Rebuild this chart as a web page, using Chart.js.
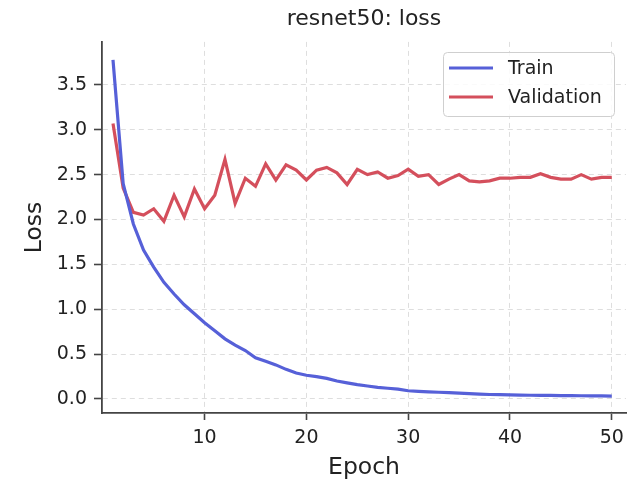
<!DOCTYPE html>
<html>
<head>
<meta charset="utf-8">
<title>resnet50: loss</title>
<script src="https://cdn.jsdelivr.net/npm/chart.js@4.4.1/dist/chart.umd.min.js"></script>
<style>
  html, body { margin: 0; padding: 0; background: #fff; }
  #wrap { width: 631px; height: 482px; }
</style>
</head>
<body>
<div id="wrap"><canvas id="lossChart" width="631" height="482"></canvas></div>
<script>
// per-epoch loss values
const trainLoss = [3.78, 2.40, 1.95, 1.66, 1.47, 1.30, 1.17, 1.05, 0.95, 0.85,
                   0.76, 0.67, 0.60, 0.54, 0.46, 0.42, 0.38, 0.33, 0.29, 0.265,
                   0.25, 0.23, 0.20, 0.18, 0.16, 0.145, 0.13, 0.12, 0.11, 0.092,
                   0.085, 0.08, 0.075, 0.07, 0.065, 0.06, 0.055, 0.05, 0.048, 0.045,
                   0.043, 0.042, 0.04, 0.04, 0.038, 0.037, 0.036, 0.035, 0.034, 0.033];
const valLoss = [3.07, 2.35, 2.08, 2.05, 2.12, 1.98, 2.27, 2.03, 2.34, 2.12,
                 2.27, 2.67, 2.18, 2.46, 2.37, 2.62, 2.44, 2.61, 2.55, 2.44,
                 2.55, 2.58, 2.52, 2.39, 2.56, 2.50, 2.53, 2.46, 2.49, 2.56,
                 2.48, 2.50, 2.39, 2.45, 2.50, 2.43, 2.42, 2.43, 2.46, 2.46,
                 2.47, 2.47, 2.51, 2.47, 2.45, 2.45, 2.50, 2.45, 2.47, 2.47];
const epochs = trainLoss.map((_, i) => i + 1);
const xTicks = [10, 20, 30, 40, 50];
const yTicks = [0, 0.5, 1.0, 1.5, 2.0, 2.5, 3.0, 3.5];

const FONT = "'DejaVu Sans', sans-serif";
const AXIS = '#444';
const GRID = '#dedede';
const TEXT = '#222';

const toPoints = arr => arr.map((v, i) => ({ x: epochs[i], y: v }));

// matplotlib-style legend box in the upper right of the plot
const boxLegend = {
  id: 'boxLegend',
  afterDraw(chart) {
    const ctx = chart.ctx;
    const x = 443.5, y = 52.5, w = 171, h = 64;
    ctx.save();
    ctx.beginPath();
    ctx.roundRect(x, y, w, h, 4);
    ctx.fillStyle = 'rgba(255,255,255,0.85)';
    ctx.fill();
    ctx.strokeStyle = '#cfcfcf';
    ctx.lineWidth = 1;
    ctx.stroke();
    ctx.font = '19px ' + FONT;
    ctx.textBaseline = 'middle';
    chart.data.datasets.forEach((ds, i) => {
      const ly = 68 + i * 29;
      ctx.beginPath();
      ctx.moveTo(449, ly);
      ctx.lineTo(493, ly);
      ctx.strokeStyle = ds.borderColor;
      ctx.lineWidth = 3.2;
      ctx.stroke();
      ctx.fillStyle = TEXT;
      ctx.fillText(ds.label, 508, ly + 1);
    });
    ctx.restore();
  }
};

new Chart(document.getElementById('lossChart'), {
  type: 'line',
  data: {
    datasets: [
      { label: 'Train', data: toPoints(trainLoss), borderColor: '#5660d8', borderWidth: 3.2, pointRadius: 0, tension: 0 },
      { label: 'Validation', data: toPoints(valLoss), borderColor: '#d44f5c', borderWidth: 3.2, pointRadius: 0, tension: 0 }
    ]
  },
  options: {
    responsive: false,
    animation: false,
    layout: { padding: { left: 0, right: 4, top: 0, bottom: 0 } },
    plugins: {
      legend: { display: false },
      tooltip: { enabled: false },
      title: {
        display: true,
        text: 'resnet50: loss',
        fullSize: false,
        color: TEXT,
        font: { family: FONT, size: 22, weight: 'normal' },
        padding: { top: 6, bottom: 9.5 }
      }
    },
    scales: {
      x: {
        type: 'linear',
        min: -0.08,
        max: 51.4,
        afterBuildTicks: s => { s.ticks = xTicks.map(v => ({ value: v })); },
        afterFit: s => { s.height = 69; },
        ticks: { color: TEXT, font: { family: FONT, size: 19 }, padding: 7, maxRotation: 0 },
        grid: { color: GRID, lineWidth: 1, tickColor: AXIS, tickWidth: 1.6, tickLength: 7 },
        border: { display: true, color: AXIS, width: 1.8, dash: [5, 4] },
        title: { display: true, text: 'Epoch', color: TEXT, font: { family: FONT, size: 23.5 }, padding: { top: 0, bottom: 0 } }
      },
      y: {
        type: 'linear',
        min: -0.156,
        max: 3.979,
        afterBuildTicks: s => { s.ticks = yTicks.map(v => ({ value: v })); },
        afterFit: s => { s.width = 102; },
        ticks: { color: TEXT, font: { family: FONT, size: 19 }, padding: 7, callback: v => v.toFixed(1) },
        grid: { color: GRID, lineWidth: 1, tickColor: AXIS, tickWidth: 1.6, tickLength: 8 },
        border: { display: true, color: AXIS, width: 1.8, dash: [5, 4] },
        title: { display: true, text: 'Loss', color: TEXT, font: { family: FONT, size: 23.5 }, padding: { top: 21, bottom: 0 } }
      }
    }
  },
  plugins: [boxLegend]
});
</script>
</body>
</html>
